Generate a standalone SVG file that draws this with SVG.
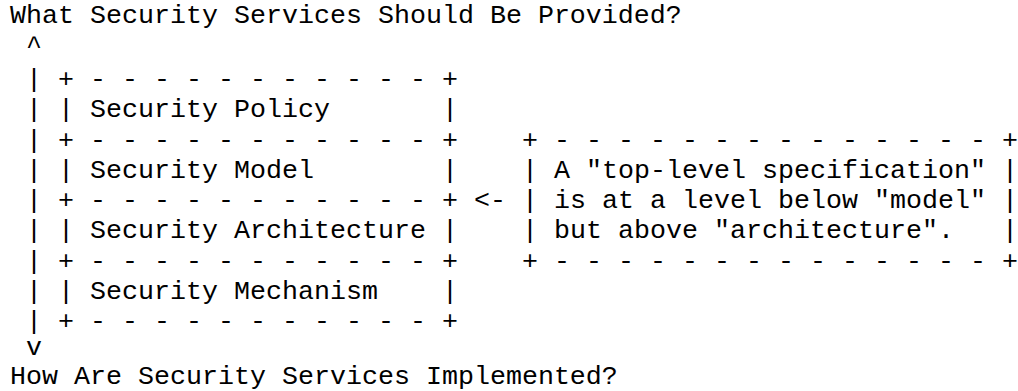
<svg xmlns="http://www.w3.org/2000/svg" width="1018" height="391" viewBox="0 0 1018 391">
<style>
text{font-family:"Liberation Mono","Courier New",monospace;font-size:26.67px;fill:#000;white-space:pre}
</style>
<rect width="1018" height="391" fill="#fff"/>
<g id="title-top"><text x="10" y="23">What Security Services Should Be Provided?</text></g>
<g id="connectors">
<text x="26" y="54">^</text>
<text x="26" y="87">|</text>
<text x="26" y="117.25">|</text>
<text x="26" y="147.5">|</text>
<text x="26" y="177.75">|</text>
<text x="26" y="208">|</text>
<text x="26" y="238.25">|</text>
<text x="26" y="268.5">|</text>
<text x="26" y="298.75">|</text>
<text x="26" y="329">|</text>
<text x="26" y="355">v</text>
<text x="474" y="208">&lt;-</text>
</g>
<g id="policy">
<text x="58" y="87">+ - - - - - - - - - - - +</text>
<text x="58" y="117.25">|</text><text x="90" y="117.25">Security Policy</text><text x="442" y="117.25">|</text>
</g>
<g id="model">
<text x="58" y="147.5">+ - - - - - - - - - - - +</text>
<text x="58" y="177.75">|</text><text x="90" y="177.75">Security Model</text><text x="442" y="177.75">|</text>
</g>
<g id="architecture">
<text x="58" y="208">+ - - - - - - - - - - - +</text>
<text x="58" y="238.25">|</text><text x="90" y="238.25">Security Architecture</text><text x="442" y="238.25">|</text>
</g>
<g id="mechanism">
<text x="58" y="268.5">+ - - - - - - - - - - - +</text>
<text x="58" y="298.75">|</text><text x="90" y="298.75">Security Mechanism</text><text x="442" y="298.75">|</text>
<text x="58" y="329">+ - - - - - - - - - - - +</text>
</g>
<g id="note">
<text x="522" y="147.5">+ - - - - - - - - - - - - - - +</text>
<text x="522" y="177.75">|</text><text x="554" y="177.75">A "top-level specification"</text><text x="1002" y="177.75">|</text>
<text x="522" y="208">|</text><text x="554" y="208">is at a level below "model"</text><text x="1002" y="208">|</text>
<text x="522" y="238.25">|</text><text x="554" y="238.25">but above "architecture".</text><text x="1002" y="238.25">|</text>
<text x="522" y="268.5">+ - - - - - - - - - - - - - - +</text>
</g>
<g id="title-bottom"><text x="10" y="384">How Are Security Services Implemented?</text></g>
</svg>
